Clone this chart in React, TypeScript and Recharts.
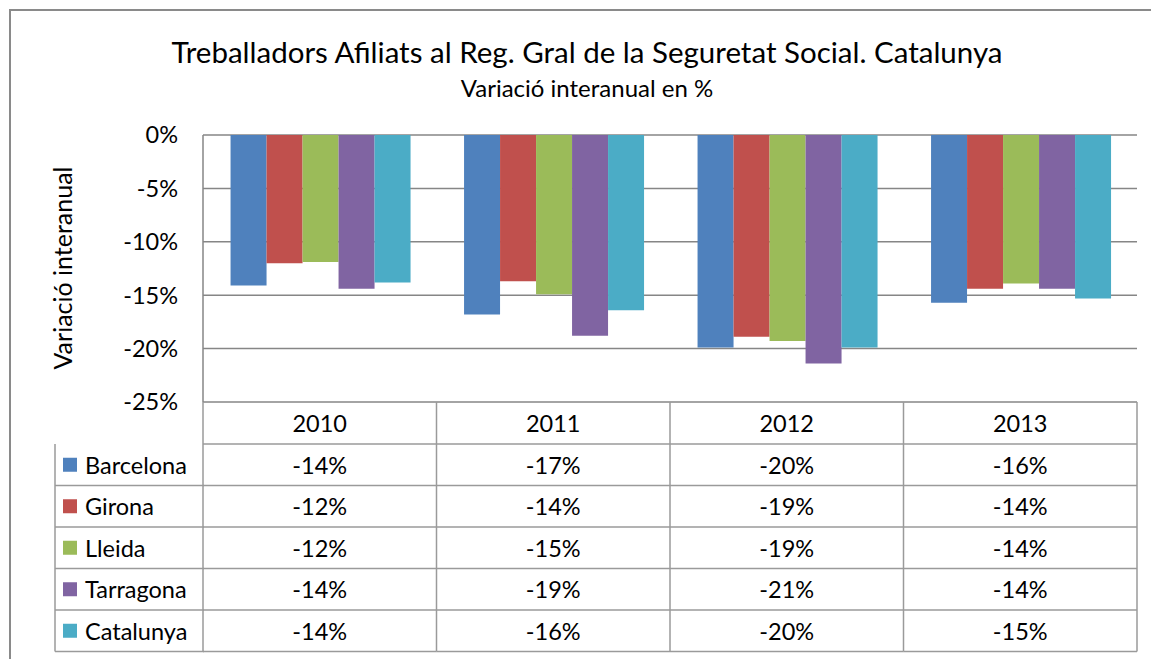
import React from 'react';
import { BarChart, Bar, XAxis, YAxis, CartesianGrid, Legend } from 'recharts';

const categories = ['2010', '2011', '2012', '2013'];
const seriesNames = ['Barcelona', 'Girona', 'Lleida', 'Tarragona', 'Catalunya'];
const seriesColors = ['#4F81BD', '#C0504D', '#9BBB59', '#8064A2', '#4BACC6'];
const barcelona = [-14.1, -16.8, -19.9, -15.7];
const girona = [-12.0, -13.7, -18.9, -14.4];
const lleida = [-11.9, -14.9, -19.3, -13.9];
const tarragona = [-14.4, -18.8, -21.4, -14.4];
const catalunya = [-13.8, -16.4, -19.9, -15.3];
const yTicks = [0, -5, -10, -15, -20, -25];

const seriesValues = [barcelona, girona, lleida, tarragona, catalunya];
const data = categories.map((c, i) => {
  const row: any = { year: c };
  seriesNames.forEach((n, s) => {
    row[n] = seriesValues[s][i];
  });
  return row;
});

const FONT = 'Lato, "Open Sans", sans-serif';
const FS = 23.5;
const HEADER_H = 42;
const ROW_H = 41.5;
const TABLE_LINE = '#9a9a9a';
const GRID = '#868686';

const fmt = (v: number) => `${Math.round(v)}%`;

const TableTick = (props: any) => {
  const { x, y, index, payload, width, visibleTicksCount } = props;
  const colW = payload && payload.offset ? payload.offset * 2 : width / visibleTicksCount;
  const left = x - colW / 2;
  const right = x + colW / 2;
  const total = HEADER_H + ROW_H * seriesNames.length;
  const lines: any[] = [];
  lines.push(<line key="vl" x1={left} x2={left} y1={y} y2={y + total} stroke={TABLE_LINE} strokeWidth={1.5} />);
  if (index === visibleTicksCount - 1) {
    lines.push(<line key="vr" x1={right} x2={right} y1={y} y2={y + total} stroke={TABLE_LINE} strokeWidth={1.5} />);
  }
  for (let r = 0; r <= seriesNames.length; r++) {
    const ly = y + HEADER_H + r * ROW_H;
    lines.push(<line key={'h' + r} x1={left} x2={right} y1={ly} y2={ly} stroke={TABLE_LINE} strokeWidth={1.5} />);
  }
  return (
    <g>
      {lines}
      <text x={x} y={y + HEADER_H / 2} textAnchor="middle" dominantBaseline="central" fontSize={FS} fill="#000" fontFamily={FONT}>
        {payload.value}
      </text>
      {seriesNames.map((n, s) => (
        <text key={n} x={x} y={y + HEADER_H + ROW_H * s + ROW_H / 2} textAnchor="middle" dominantBaseline="central" fontSize={FS} fill="#000" fontFamily={FONT}>
          {fmt(seriesValues[s][index])}
        </text>
      ))}
    </g>
  );
};

const LegendTable = (props: any) => {
  const raw = props.payload || [];
  const payload = [...raw].sort((a: any, b: any) => seriesNames.indexOf(a.value) - seriesNames.indexOf(b.value));
  const w = 150;
  const h = ROW_H * payload.length + 2;
  return (
    <svg width={w} height={h} style={{ display: 'block' }}>
      <line x1={1} x2={1} y1={0} y2={ROW_H * payload.length} stroke={TABLE_LINE} strokeWidth={1.5} />
      {payload.map((p: any, i: number) => (
        <g key={p.value}>
          <line x1={1} x2={w} y1={ROW_H * (i + 1)} y2={ROW_H * (i + 1)} stroke={TABLE_LINE} strokeWidth={1.5} />
          <rect x={9} y={ROW_H * i + ROW_H / 2 - 7} width={14} height={14} fill={p.color} />
          <text x={31} y={ROW_H * i + ROW_H / 2} dominantBaseline="central" fontSize={FS} fill="#000" fontFamily={FONT}>
            {p.value}
          </text>
        </g>
      ))}
    </svg>
  );
};

const YLabel = () => (
  <text x={62} y={268} transform="rotate(-90 62 268)" textAnchor="middle" dominantBaseline="central" fontSize={25} fill="#000" fontFamily={FONT}>
    Variació interanual
  </text>
);

export default function App() {
  return (
    <div style={{ position: 'absolute', left: 0, top: 0, width: 1151, height: 659, background: '#fff', overflow: 'hidden' }}>
      <BarChart
        width={1151}
        height={659}
        data={data}
        margin={{ top: 135, right: 14, bottom: 7, left: 0 }}
        barCategoryGap="11.8%"
        barGap={0}
      >
        <CartesianGrid horizontal vertical={false} stroke={GRID} strokeWidth={1.5} />
        <XAxis
          dataKey="year"
          height={250}
          axisLine={false}
          tickLine={false}
          tickSize={0}
          tickMargin={0}
          interval={0}
          tick={<TableTick />}
        />
        <YAxis
          width={203}
          domain={[-25, 0]}
          ticks={yTicks}
          tickFormatter={(v: number) => `${v}%`}
          axisLine={{ stroke: GRID, strokeWidth: 1.5 }}
          tickLine={false}
          tickSize={0}
          tickMargin={25}
          tick={{ fontSize: FS, fill: '#000', fontFamily: FONT }}
          label={<YLabel />}
        />
        <Legend
          layout="vertical"
          align="center"
          verticalAlign="middle"
          content={<LegendTable />}
          wrapperStyle={{ position: 'absolute', left: 54, top: 444, width: 150 }}
        />
        {seriesNames.map((n, s) => (
          <Bar key={n} dataKey={n} name={n} fill={seriesColors[s]} isAnimationActive={false} />
        ))}
      </BarChart>
      <svg width={1151} height={659} style={{ position: 'absolute', left: 0, top: 0, pointerEvents: 'none' }}>
        <rect x={10} y={10} width={1200} height={700} fill="none" stroke="#8a8a8a" strokeWidth={2} />
        <text x={587} y={51} textAnchor="middle" dominantBaseline="central" fontSize={29.5} fill="#000" fontFamily={FONT}>
          Treballadors Afiliats al Reg. Gral de la Seguretat Social. Catalunya
        </text>
        <text x={587} y={87} textAnchor="middle" dominantBaseline="central" fontSize={24} fill="#000" fontFamily={FONT}>
          Variació interanual en %
        </text>
      </svg>
    </div>
  );
}
